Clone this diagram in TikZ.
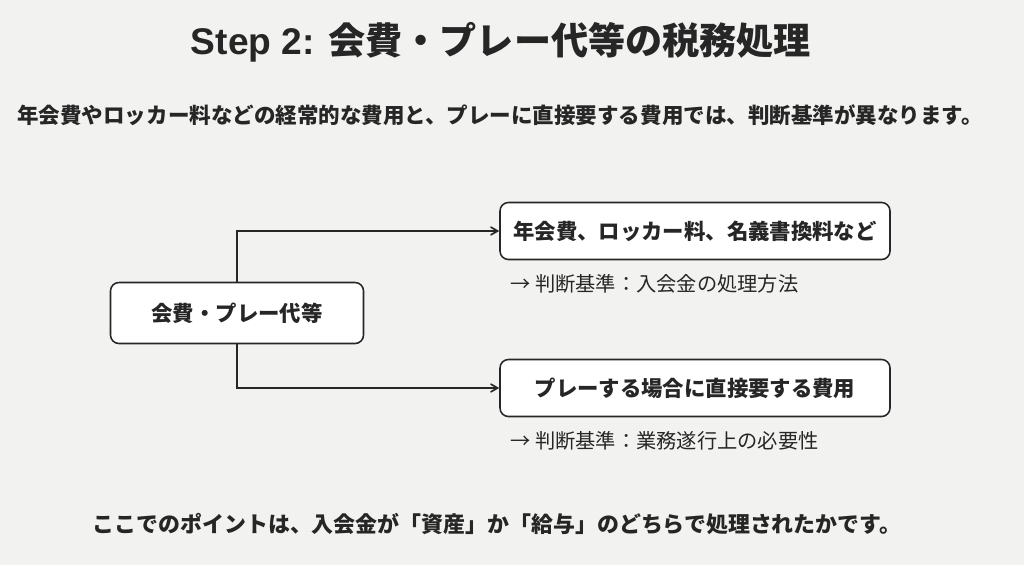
\documentclass[tikz,border=0pt]{standalone}
\usepackage{fontspec}
\setmainfont{Noto Sans CJK JP}
\newfontfamily\latfont{Liberation Sans}
\usepackage{xcolor}
\usetikzlibrary{positioning,arrows}
\definecolor{hinter}{HTML}{F2F2F0}
\definecolor{tinte}{HTML}{262626}
\tikzset{
>=angle 60,
  kasten/.style={
    rectangle,
    rounded corners=6pt,
    draw=tinte, line width=1.1pt,
    fill=white,
    text=tinte,
    font=\fontsize{15.2pt}{18pt}\selectfont\bfseries,
    inner sep=0pt,
    text centered},
  notiz/.style={
    anchor=west, inner sep=0pt, text=tinte,
    font=\fontsize{14.4pt}{17pt}\selectfont},
  line/.style={draw=tinte, line width=1.2pt, ->},
}
\begin{document}
\begin{tikzpicture}
  [x=0.025cm, y=-0.025cm]
     \fill[hinter] (0,0) rectangle (1024,565);
     \useasboundingbox (0,0) rectangle (1024,565);
     \node[text=tinte, font=\fontsize{26.4pt}{32pt}\selectfont\bfseries] (titel) at (501,42) {{\latfont Step 2: }会費・プレー代等の税務処理};
     \node[text=tinte, font=\fontsize{15.3pt}{18pt}\selectfont\bfseries] (einl) at (500,115) {年会費やロッカー料などの経常的な費用と、プレーに直接要する費用では、判断基準が異なります。};
     \node[kasten, minimum width=253*0.025cm, minimum height=61*0.025cm] (k1) at (237,313) {会費・プレー代等};
     \node[kasten, minimum width=390*0.025cm, minimum height=57*0.025cm] (k2) at (695,231) {年会費、ロッカー料、名義書換料など};
     \node[kasten, minimum width=390*0.025cm, minimum height=57*0.025cm] (k3) at (695,388) {プレーする場合に直接要する費用};
     \node[notiz] (n2) at (510,284) {→ 判断基準：入会金の処理方法};
     \node[notiz] (n3) at (510,441) {→ 判断基準：業務遂行上の必要性};
     \node[text=tinte, font=\fontsize{15.6pt}{18pt}\selectfont\bfseries] (punkt) at (497,524) {ここでのポイントは、入会金が「資産」か「給与」のどちらで処理されたかです。};

     \path[line] (k1.north) |- (k2.west);
     \path[line] (k1.south) |- (k3.west);
  \end{tikzpicture}
\end{document}
